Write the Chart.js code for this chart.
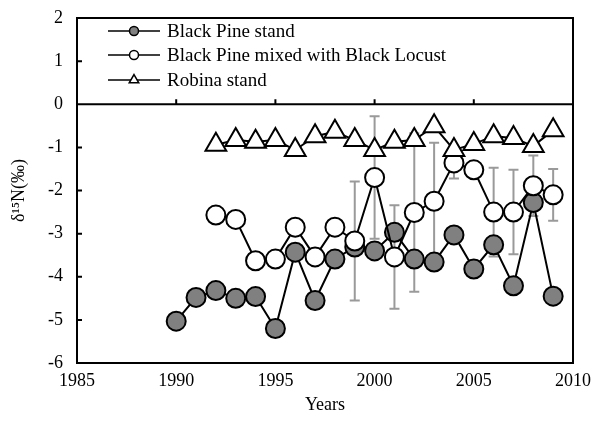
<!DOCTYPE html>
<html>
<head>
<meta charset="utf-8">
<script src="https://cdn.jsdelivr.net/npm/chart.js@4.4.1/dist/chart.umd.min.js"></script>
<style>
  html, body { margin: 0; padding: 0; background: #fff; }
  #wrap { width: 596px; height: 425px; }
</style>
</head>
<body>
<div id="wrap"><canvas id="grafico"></canvas></div>
<script>
const years = [1990, 1991, 1992, 1993, 1994, 1995, 1996, 1997, 1998, 1999,
               2000, 2001, 2002, 2003, 2004, 2005, 2006, 2007, 2008, 2009];
const blackPine = [-5.03, -4.48, -4.32, -4.50, -4.46, -5.20, -3.43, -4.55, -3.59, -3.31,
                   -3.40, -2.97, -3.59, -3.66, -3.03, -3.82, -3.26, -4.21, -2.28, -4.45];
const mixedLocust = [null, null, -2.57, -2.67, -3.63, -3.59, -2.85, -3.54, -2.85, -3.17,
                     -1.70, -3.54, -2.51, -2.25, -1.36, -1.52, -2.50, -2.50, -1.89, -2.10];
const mixedErr = [null, null, null, null, null, null, null, null, null, 1.38,
                  1.42, 1.20, 1.84, 1.36, 0.36, null, 1.03, 0.98, 0.70, 0.60];
const robinia = [null, null, -0.94, -0.83, -0.87, -0.83, -1.06, -0.74, -0.64, -0.83,
                 -1.06, -0.87, -0.83, -0.51, -1.06, -0.92, -0.74, -0.78, -0.97, -0.60];
const seriesNames = ['Black Pine stand', 'Black Pine mixed with Black Locust', 'Robina stand'];

const serif = "'Liberation Serif', 'Times New Roman', serif";

function pts(arr) {
  return years.map((yr, i) => ({ x: yr, y: arr[i] }));
}

// error bars, frame, inner ticks and the legend inside the plot
const extras = {
  id: 'extras',
  beforeDatasetsDraw(chart) {
    const { ctx, scales: { x, y } } = chart;
    ctx.save();
    ctx.strokeStyle = '#9a9a9a';
    ctx.lineWidth = 2;
    years.forEach((yr, i) => {
      const e = mixedErr[i];
      if (e == null || mixedLocust[i] == null) return;
      const px = x.getPixelForValue(yr);
      const t = y.getPixelForValue(mixedLocust[i] + e);
      const b = y.getPixelForValue(mixedLocust[i] - e);
      ctx.beginPath();
      ctx.moveTo(px, t); ctx.lineTo(px, b);
      ctx.moveTo(px - 5, t); ctx.lineTo(px + 5, t);
      ctx.moveTo(px - 5, b); ctx.lineTo(px + 5, b);
      ctx.stroke();
    });
    ctx.restore();
  },
  afterDraw(chart) {
    const { ctx, chartArea: a, scales: { x, y } } = chart;
    ctx.save();
    ctx.strokeStyle = '#000';
    ctx.lineWidth = 2;
    ctx.strokeRect(a.left, a.top, a.right - a.left, a.bottom - a.top);

    // zero line with x tick marks
    const y0 = y.getPixelForValue(0);
    ctx.beginPath();
    ctx.moveTo(a.left, y0); ctx.lineTo(a.right, y0);
    x.ticks.forEach(t => {
      const px = x.getPixelForValue(t.value);
      ctx.moveTo(px, y0); ctx.lineTo(px, y0 - 5);
    });
    y.ticks.forEach(t => {
      const py = y.getPixelForValue(t.value);
      ctx.moveTo(a.left, py); ctx.lineTo(a.left + 5, py);
    });
    ctx.stroke();

    // legend
    const rows = [31, 55, 80];
    chart.data.datasets.forEach((ds, i) => {
      const cy = rows[i];
      ctx.strokeStyle = '#000';
      ctx.lineWidth = 1.5;
      ctx.beginPath();
      ctx.moveTo(108, cy); ctx.lineTo(160, cy);
      ctx.stroke();
      ctx.fillStyle = ds.pointBackgroundColor;
      Chart.helpers.drawPoint(ctx, {
        pointStyle: ds.pointStyle,
        radius: ds.pointStyle === 'triangle' ? 5.5 : 4.5,
        borderWidth: 1.5
      }, 134, cy);
      ctx.fillStyle = '#000';
      ctx.font = '19px ' + serif;
      ctx.textBaseline = 'middle';
      ctx.textAlign = 'left';
      ctx.fillText(ds.label, 167, cy + 1);
    });
    ctx.restore();
  }
};

new Chart(document.querySelector('#grafico'), {
  type: 'line',
  data: {
    datasets: [{
      label: seriesNames[0],
      data: pts(blackPine),
      order: 3,
      borderColor: '#000',
      borderWidth: 2,
      pointStyle: 'circle',
      pointRadius: 9.5,
      pointBackgroundColor: '#808080',
      pointBorderColor: '#000',
      pointBorderWidth: 2
    }, {
      label: seriesNames[1],
      data: pts(mixedLocust),
      order: 2,
      borderColor: '#000',
      borderWidth: 2,
      pointStyle: 'circle',
      pointRadius: 9.5,
      pointBackgroundColor: '#fff',
      pointBorderColor: '#000',
      pointBorderWidth: 2
    }, {
      label: seriesNames[2],
      data: pts(robinia),
      order: 1,
      borderColor: '#000',
      borderWidth: 2,
      pointStyle: 'triangle',
      pointRadius: 12,
      pointBackgroundColor: '#fff',
      pointBorderColor: '#000',
      pointBorderWidth: 2
    }]
  },
  options: {
    responsive: true,
    maintainAspectRatio: false,
    animation: false,
    layout: { padding: { left: 0, right: 23, top: 18, bottom: 0 } },
    plugins: {
      legend: { display: false },
      tooltip: { enabled: false }
    },
    scales: {
      x: {
        type: 'linear',
        min: 1985,
        max: 2010,
        ticks: { stepSize: 5, color: '#000', font: { family: serif, size: 18 }, padding: 7,
                 callback: v => String(v) },
        grid: { display: false, drawTicks: false },
        border: { display: false },
        title: { display: true, text: 'Years', color: '#000', font: { family: serif, size: 18 },
                 padding: { top: 0, bottom: 9 } },
        afterFit: s => { s.height = 62; s.paddingLeft = 0; s.paddingRight = 0; }
      },
      y: {
        min: -6,
        max: 2,
        ticks: { stepSize: 1, color: '#000', font: { family: serif, size: 18 }, padding: 14 },
        grid: { display: false, drawTicks: false },
        border: { display: false },
        title: { display: true, text: 'δ¹⁵N(‰)', color: '#000', font: { family: serif, size: 18 },
                 padding: { top: 8, bottom: 4 } },
        afterFit: s => { s.width = 77; s.paddingTop = 0; s.paddingBottom = 0; }
      }
    }
  },
  plugins: [extras]
});
</script>
</body>
</html>
